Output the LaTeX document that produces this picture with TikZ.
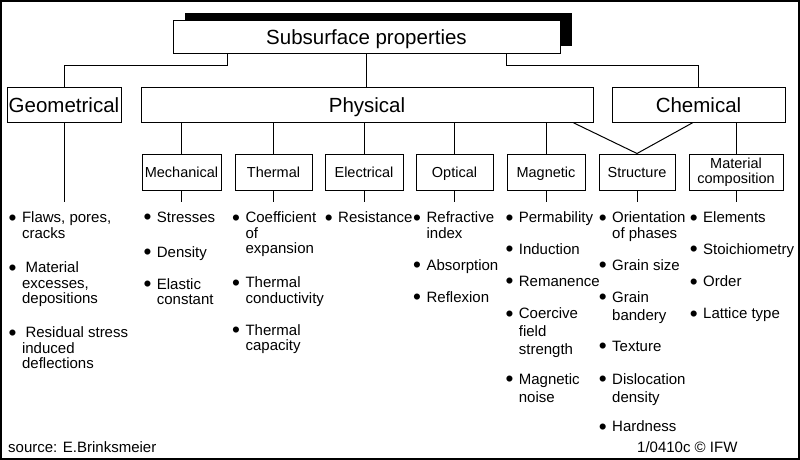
\documentclass[tikz,border=0pt]{standalone}
\usepackage{fontspec}
\setmainfont{Liberation Sans}
\usetikzlibrary{shadows}

\newcommand{\bu}{\raisebox{-2.5pt}{\scalebox{1.5}{\textbullet}}\hspace{5.5pt}}
\newcommand{\ind}{\phantom{\bu}}

\tikzset{
  bigbox/.style={draw,line width=1pt,fill=white,inner sep=0pt,minimum height=35pt,
    font=\fontsize{20.5}{24}\selectfont,text height=14.7pt,text depth=0pt},
  subbox/.style={draw,line width=1pt,inner sep=0pt,minimum height=36pt,
    font=\fontsize{14.5}{15.5}\selectfont},
  subtxt/.style={subbox,text height=10.4pt,text depth=0pt},
  itm/.style={anchor=north west,inner sep=0pt,align=left,font=\fontsize{15}{15.5}\selectfont},
  foot/.style={anchor=base west,inner sep=0pt,font=\fontsize{15}{18}\selectfont},
  link/.style={line width=1pt},
}

\begin{document}
\begin{tikzpicture}[x=1pt,y=-1pt]
\useasboundingbox (0,0) rectangle (800,460);
\draw[line width=1.2pt] (1,1) rectangle (799,459);

% title and main groups
\node[bigbox,minimum width=387pt,minimum height=33pt,
  general shadow={fill=black,shadow xshift=11.5pt,shadow yshift=8pt}] (top) at (366.5,37.5) {Subsurface properties};
\node[bigbox,minimum width=114pt] (geo) at (64,104.8) {Geometrical};
\node[bigbox,minimum width=452pt] (phys) at (367,104.8) {Physical};
\node[bigbox,minimum width=173pt] (chem) at (698.5,104.8) {Chemical};

% sub groups
\node[subtxt,minimum width=79pt] (mech) at (181.5,172) {Mechanical};
\node[subtxt,minimum width=77pt] (therm) at (273.5,172) {Thermal};
\node[subtxt,minimum width=78pt] (elec) at (364,172) {Electrical};
\node[subtxt,minimum width=77pt] (opt) at (454.5,172) {Optical};
\node[subtxt,minimum width=78pt] (magn) at (546,172) {Magnetic};
\node[subtxt,minimum width=76pt] (struc) at (637,172) {Structure};
\node[subbox,minimum width=94pt,align=center] (matc) at (736,172) {Material\\composition};

% connectors
\draw[link] ([xshift=55pt]top.south west) -- ++(0,11) -| (geo.north);
\draw[link] ([xshift=-54pt]top.south east) -- ++(0,11) -| (chem.north);
\draw[link] (top.south) -- (top.south |- phys.north);
\foreach \n in {mech,therm,elec,opt,magn}
  \draw[link] (phys.south -| \n.north) -- (\n.north);
\draw[link] ([xshift=-20pt]phys.south east) -- (struc.north) -- ([xshift=81pt]chem.south west);
\draw[link] (chem.south -| matc.north) -- (matc.north);
\coordinate (listtop) at (0,202);
\foreach \n in {geo,mech,therm,elec,opt,magn,struc,matc}
  \draw[link] (\n.south) -- (\n.south |- listtop);

% geometrical
\node[itm] (geo1) at (8.5,211.7) {\bu Flaws, pores,\\\ind cracks};
\node[itm] (geo2) at (8.5,261.7) {\bu\hspace{3.5pt}Material\\\ind excesses,\\\ind depositions};
\node[itm] (geo3) at (8.5,326.5) {\bu\hspace{3.5pt}Residual stress\\\ind induced\\\ind deflections};
% mechanical
\node[itm] (mech1) at (143.3,211.7) {\bu Stresses};
\node[itm] (mech2) at (143.3,246) {\bu Density};
\node[itm] (mech3) at (143.3,278.3) {\bu Elastic\\\ind constant};
% thermal
\node[itm] (therm1) at (232,211.7) {\bu Coefficient\\\ind of\\\ind expansion};
\node[itm] (therm2) at (232,276.7) {\bu Thermal\\\ind conductivity};
\node[itm] (therm3) at (232,324.3) {\bu Thermal\\\ind capacity};
% electrical
\node[itm] (elec1) at (324.6,211.7) {\bu Resistance};
% optical
\node[itm] (opt1) at (413,211.7) {\bu Refractive\\\ind index};
\node[itm] (opt2) at (413,259) {\bu Absorption};
\node[itm] (opt3) at (413,291) {\bu Reflexion};
% magnetic
\node[itm] (magn1) at (505.3,211.7) {\bu Permability};
\node[itm] (magn2) at (505.3,243.3) {\bu Induction};
\node[itm] (magn3) at (505.3,275.7) {\bu Remanence};
\node[itm] (magn4) at (505.3,307.7) {\bu Coercive\\[2.5pt]\ind field\\[2.5pt]\ind strength};
\node[itm] (magn5) at (505.3,373.3) {\bu Magnetic\\[2.5pt]\ind noise};
% structure
\node[itm] (struc1) at (598.6,211.7) {\bu Orientation\\\ind of phases};
\node[itm] (struc2) at (598.6,259) {\bu Grain size};
\node[itm] (struc3) at (598.6,291) {\bu Grain\\[2.5pt]\ind bandery};
\node[itm] (struc4) at (598.6,340.7) {\bu Texture};
\node[itm] (struc5) at (598.6,373.3) {\bu Dislocation\\[2.5pt]\ind density};
\node[itm] (struc6) at (598.6,420.7) {\bu Hardness};
% material composition
\node[itm] (matc1) at (689.6,211.7) {\bu Elements};
\node[itm] (matc2) at (689.6,243.3) {\bu Stoichiometry};
\node[itm] (matc3) at (689.6,275.7) {\bu Order};
\node[itm] (matc4) at (689.6,307.7) {\bu Lattice type};

% footer
\node[foot] (src) at (8,452) {source: E.Brinksmeier};
\node[foot] (ref) at (637,452) {1/0410c © IFW};
\end{tikzpicture}
\end{document}
